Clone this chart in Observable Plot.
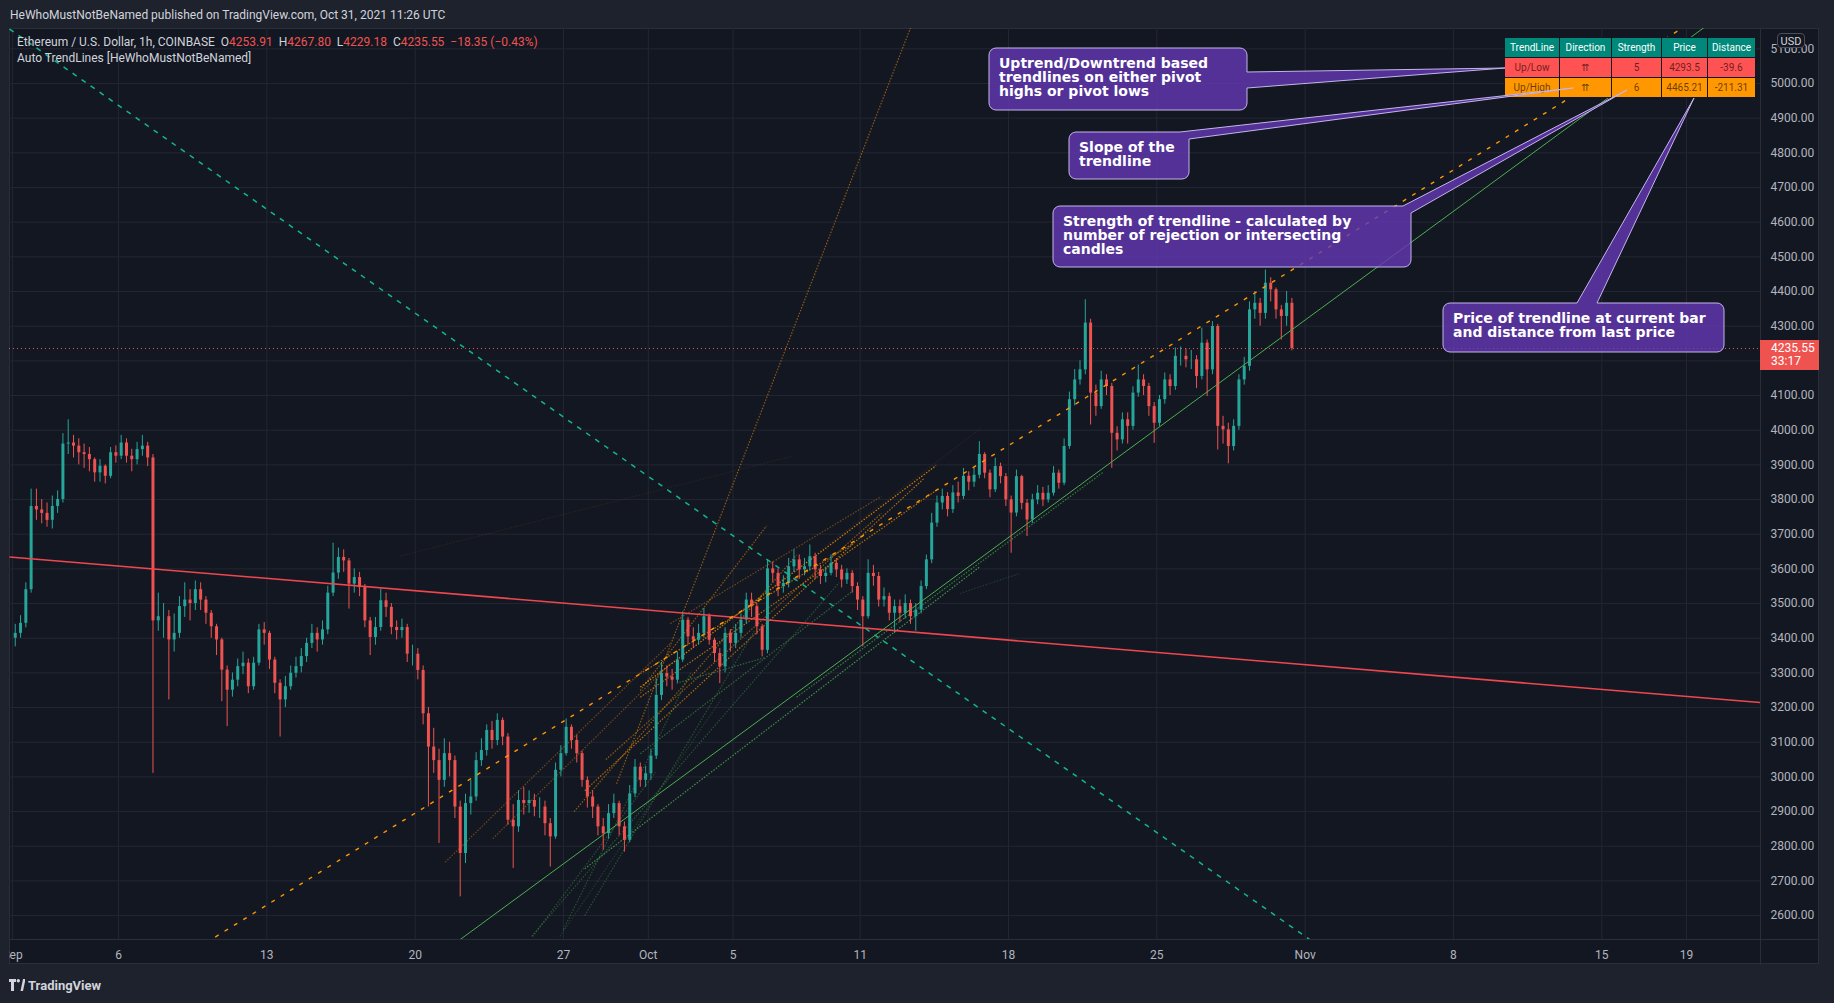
<!DOCTYPE html>
<html><head><meta charset="utf-8">
<script src="https://cdn.jsdelivr.net/npm/d3@7"></script>
<script src="https://cdn.jsdelivr.net/npm/@observablehq/plot@0.6"></script>
<style>
html,body{margin:0;padding:0;}
body{width:1834px;height:1003px;background:#1e222d;position:relative;overflow:hidden;font-family:Roboto,"Liberation Sans",Arial,sans-serif;}
.abs{position:absolute;}
#pane{left:9px;top:28px;width:1810px;height:936px;background:#131722;border:1px solid #2a2e39;box-sizing:border-box;}
#chart{left:0;top:28px;}
#leftmask{left:0;top:28px;width:9px;height:937px;background:#1e222d;}
#vsep{left:1760px;top:28px;width:1px;height:937px;background:#2a2e39;}
#hsep{left:9px;top:939px;width:1810px;height:1px;background:#2a2e39;}
#header{left:10px;top:8px;font-size:12px;color:#d1d4dc;line-height:14px;white-space:pre;}
.leg{left:17px;font-size:12px;line-height:14px;color:#d1d4dc;white-space:pre;}
.red{color:#ef5350;}
#usd{left:1777px;top:33px;width:28px;height:15px;border:1px solid #4a4e59;border-radius:4px;background:#131722;color:#d1d4dc;font-size:11px;line-height:15px;text-align:center;box-sizing:border-box;}
#plabel{left:1760px;width:59px;height:30px;background:#ef5350;color:#fff;font-size:12px;line-height:13px;padding:2px 0 0 11px;box-sizing:border-box;}
#tbl{left:1504px;top:37px;border-collapse:collapse;font-size:10px;}
#tbl td,#tbl th{border:1px solid #131722;text-align:center;padding:0;font-weight:normal;}
#tbl th{background:#00897b;color:#fff;height:19px;}
#tbl td{height:19px;color:rgba(0,0,0,0.62);}
#callouts{left:0;top:0;}
.ctext{font-family:"DejaVu Sans",sans-serif;font-weight:bold;font-size:14px;line-height:14px;color:#fff;white-space:pre;}
#footer{left:9px;top:978px;color:#d1d4dc;font-size:13px;font-weight:bold;line-height:16px;}
</style></head>
<body>
<div id="pane" class="abs"></div>
<div id="chart" class="abs"></div>
<div id="leftmask" class="abs"></div>
<div id="vsep" class="abs"></div>
<div id="hsep" class="abs"></div>
<div id="header" class="abs">HeWhoMustNotBeNamed published on TradingView.com, Oct 31, 2021 11:26 UTC</div>
<div id="leg1" class="abs leg" style="top:35px"></div>
<div id="leg2" class="abs leg" style="top:51px">Auto TrendLines [HeWhoMustNotBeNamed]</div>
<div id="usd" class="abs">USD</div>
<div id="plabel" class="abs"></div>
<table id="tbl" class="abs"></table>
<svg id="callouts" class="abs" width="1834" height="1003"></svg>
<div id="ctexts"></div>
<div id="footer" class="abs"><svg width="16" height="12" style="vertical-align:-1px;margin-right:3px"><path d="M0 0H7V3H5V12H2V3H0Z" fill="#d1d4dc"/><circle cx="9.3" cy="1.7" r="1.7" fill="#d1d4dc"/><path d="M11.5 12L14 0H16.5L14 12Z" fill="#d1d4dc"/></svg>TradingView</div>
<script>
// ---------- DATA ----------
const symbolName = "Ethereum / U.S. Dollar, 1h, COINBASE";
const ohlcLast = {O: "4253.91", H: "4267.80", L: "4229.18", C: "4235.55"};
const changeText = "\u221218.35 (\u22120.43%)";
const countdown = "33:17";

// 6-hour candles from 2021-09-01 00:00 UTC
const firstOpen = 3400;
const closes = [
 3414,3443,3540,3780, 3770,3760,3740,3780, 3800,3960,3963,3954, 3935,3930,3915,3877,
 3896,3867,3935,3925, 3963,3925,3915,3944, 3954,3920,3450,3462, 3462,3395,3414,3491,
 3510,3500,3540,3510, 3472,3433,3395,3308, 3250,3279,3318,3328, 3260,3328,3424,3414,
 3337,3270,3222,3260, 3299,3318,3347,3385, 3414,3395,3424,3530, 3588,3633,3623,3556,
 3575,3546,3450,3402, 3431,3508,3489,3431, 3422,3431,3354,3354, 3307,3182,3086,3047,
 2990,3067,3047,2913, 2779,2923,2942,3047, 3076,3134,3105,3163, 3115,2875,2856,2932,
 2923,2932,2913,2913, 2865,2827,3019,3067, 3143,3105,3067,2990, 2942,2913,2856,2836,
 2894,2923,2856,2817, 2951,3028,2990,3009,
 3060,3235,3298,3288, 3279,3337,3452,3404, 3394,3414,3462,3394, 3356,3317,3414,3385,
 3414,3452,3510,3491, 3433,3365,3600,3587, 3549,3558,3606,3626, 3597,3606,3635,3597,
 3578,3587,3616,3597, 3568,3587,3549,3510, 3462,3587,3578,3510, 3520,3472,3491,3472,
 3500,3462,3481,3549, 3626,3732,3790,3809, 3771,3819,3809,3867, 3850,3870,3930,3876,
 3828,3895,3866,3799, 3761,3866,3789,3741, 3799,3818,3799,3818, 3876,3847,3953,4088,
 4145,4174,4309,4107, 4068,4145,4126,3991, 3972,4030,4011,4107, 4145,4126,4068,4020,
 4088,4145,4126,4213, 4213,4203,4203,4155, 4251,4174,4299,4011, 4001,3953,4011,4145,
 4184,4347,4366,4337, 4424,4405,4347,4328, 4366,4235.55
];
const highs = [
 3440,3465,3560,3830, 3830,3800,3790,3810, 3825,3990,4030,3985, 3975,3960,3950,3920,
 3915,3900,3950,3955, 3985,3975,3945,3965, 3985,3965,3930,3530, 3500,3480,3470,3520,
 3560,3540,3565,3560, 3520,3480,3440,3400, 3320,3300,3340,3360, 3340,3345,3440,3445,
 3420,3345,3280,3290, 3320,3345,3370,3400, 3440,3430,3450,3550, 3674,3660,3655,3630,
 3600,3590,3555,3460, 3460,3542,3530,3500, 3450,3455,3440,3380, 3370,3320,3200,3140,
 3080,3110,3100,3060, 2930,2950,2990,3070, 3110,3150,3160,3182, 3170,3125,2920,2960,
 2970,2960,2950,2940, 2930,2880,3040,3090, 3167,3150,3120,3075, 3000,2960,2920,2880,
 2920,2950,2930,2870, 2975,3050,3040,3030,
 3080,3283,3330,3320, 3310,3360,3476,3460, 3430,3440,3486,3470, 3400,3370,3430,3425,
 3440,3470,3530,3530, 3500,3440,3625,3620, 3600,3580,3630,3655, 3640,3630,3669,3645,
 3610,3605,3640,3630, 3610,3600,3595,3560, 3520,3626,3610,3590, 3545,3530,3510,3510,
 3525,3510,3500,3565, 3640,3760,3810,3830, 3820,3840,3850,3890, 3880,3890,3967,3935,
 3885,3919,3905,3875, 3810,3885,3870,3800, 3815,3840,3835,3840, 3895,3885,3975,4110,
 4175,4200,4376,4320, 4130,4170,4160,4135, 4010,4050,4050,4125, 4188,4160,4135,4080,
 4100,4165,4160,4237, 4240,4235,4230,4215, 4294,4260,4313,4305, 4040,4020,4030,4160,
 4210,4370,4400,4380, 4462,4440,4410,4360, 4400,4380
];
const lows = [
 3375,3400,3430,3530, 3740,3730,3720,3715, 3760,3790,3930,3920, 3900,3890,3880,3850,
 3850,3845,3860,3905, 3915,3905,3880,3900, 3925,3895,3010,3420, 3400,3222,3360,3400,
 3460,3450,3480,3480, 3440,3400,3350,3217, 3145,3230,3260,3295, 3240,3250,3320,3380,
 3310,3240,3115,3200, 3250,3285,3300,3330, 3370,3360,3380,3410, 3520,3570,3590,3484,
 3530,3520,3430,3350, 3380,3420,3460,3410, 3395,3400,3330,3320, 3280,3150,2913,3010,
 2808,2970,3000,2880, 2654,2750,2890,2930, 3030,3060,3080,3090, 3090,2860,2736,2840,
 2890,2895,2885,2880, 2830,2740,2820,3000, 3060,3080,3040,2970, 2910,2880,2830,2788,
 2820,2880,2830,2783, 2810,2940,2970,2970,
 2990,3050,3220,3260, 3250,3270,3330,3380, 3370,3380,3400,3380, 3330,3269,3300,3360,
 3370,3400,3440,3460, 3410,3346,3355,3560, 3520,3530,3545,3590, 3570,3580,3595,3570,
 3555,3560,3580,3575, 3545,3555,3530,3480, 3375,3455,3550,3490, 3490,3450,3414,3445,
 3455,3440,3420,3470, 3540,3615,3720,3770, 3750,3760,3790,3800, 3825,3835,3860,3860,
 3805,3820,3845,3780, 3645,3750,3770,3693, 3730,3785,3780,3790, 3810,3830,3840,3945,
 4070,4130,4160,4015, 4040,4060,4100,3890, 3940,3960,3960,4000, 4095,4100,4040,3962,
 4010,4075,4100,4115, 4185,4180,4175,4120, 4145,4097,4160,3943, 3960,3903,3940,4000,
 4130,4170,4320,4300, 4320,4370,4320,4260, 4300,4229
];
const lastClose = 4235.55;

// Main trendlines (anchor points, extended across the chart)
const mainName       = ["Resistance", "Downtrend", "Up/High", "Up/Low"];
const mainStartTime  = ["2021-08-31T22:00Z", "2021-09-01T15:00Z", "2021-09-10T09:00Z", "2021-09-22T03:00Z"];
const mainStartPrice = [3634, 5124, 2531, 2531];
const mainEndTime    = ["2021-09-16T11:00Z", "2021-11-01T00:00Z", "2021-10-31T11:00Z", "2021-10-31T11:00Z"];
const mainEndPrice   = [3555, 2540, 4465.21, 4293.5];

// Older (historical) trendlines
const histKind       = ["high","high","high","high","high","high","high","high","high","high","high","high","high",
                        "low","low","low","low","low","low","low","low","low","low"];
const histStartTime  = ["2021-09-30T15:00Z","2021-09-30T15:00Z","2021-09-30T15:00Z","2021-09-29T12:00Z","2021-09-30T15:00Z",
                        "2021-09-21T10:00Z","2021-09-23T16:00Z","2021-09-19T07:00Z","2021-09-30T15:00Z","2021-10-02T01:00Z",
                        "2021-09-28T00:00Z","2021-09-29T00:00Z","2021-09-27T12:00Z",
                        "2021-09-28T00:00Z","2021-09-25T12:00Z","2021-09-30T15:00Z","2021-10-02T08:00Z","2021-10-08T00:00Z",
                        "2021-09-25T13:00Z","2021-09-26T20:00Z","2021-10-15T17:00Z","2021-09-27T00:00Z","2021-09-28T00:00Z"];
const histStartPrice = [3259,3230,3298,2980,3249, 2754,2822,3637,3259,3442, 2960,3050,2900,
                        2735,2540,3067,3270,3230, 2540,2540,3529,2560,2600];
const histEndTime    = ["2021-10-14T14:00Z","2021-10-14T14:00Z","2021-10-10T16:00Z","2021-10-13T12:00Z","2021-10-06T14:00Z",
                        "2021-10-02T01:00Z","2021-10-02T01:00Z","2021-10-07T19:00Z","2021-10-16T16:00Z","2021-10-12T00:00Z",
                        "2021-10-14T00:00Z","2021-10-12T00:00Z","2021-10-08T00:00Z",
                        "2021-10-16T15:00Z","2021-10-10T00:00Z","2021-10-10T16:00Z","2021-10-06T12:00Z","2021-10-22T12:00Z",
                        "2021-10-01T08:00Z","2021-10-04T10:00Z","2021-10-18T13:00Z","2021-10-03T00:00Z","2021-10-06T00:00Z"];
const histEndPrice   = [3898,3826,3673,5180,3724, 3385,3327,3925,4004,3809, 3860,3760,3640,
                        3605,3560,3537,3344,3880, 3013,3222,3587,3300,3420];
const histStrength   = [5,4,4,3,3, 2,2,0,0,2, 4,3,3, 5,2,3,3,4, 2,1,1,2,2];

// Axes
const viewStart = "2021-08-31T20:30Z", viewEnd = "2021-11-22T11:45Z";
const priceMin = 2531, priceMax = 5158.6;
const yGrid = [2600,2700,2800,2900,3000,3100,3200,3300,3400,3500,3600,3700,3800,3900,4000,4100,4200,4300,4400,4500,4600,4700,4800,4900,5000,5100];
// 4200.00 sits under the last-price label, so it is not printed
const yTickLabels = [2600,2700,2800,2900,3000,3100,3200,3300,3400,3500,3600,3700,3800,3900,4000,4100,4300,4400,4500,4600,4700,4800,4900,5000,5100];
const xTickDates = ["2021-09-01","2021-09-06","2021-09-13","2021-09-20","2021-09-27","2021-10-01","2021-10-05","2021-10-11","2021-10-18","2021-10-25","2021-11-01","2021-11-08","2021-11-15","2021-11-19"];

// Table
const tableHead = ["TrendLine","Direction","Strength","Price","Distance"];
const rowType = ["Up/Low","Up/High"];
const rowDir = ["\u21C8","\u21C8"];
const rowStrength = [5, 6];
const rowPrice = ["4293.5","4465.21"];
const rowDistance = ["-39.6","-211.31"];

// Callout texts
const calloutLines = [
  ["Uptrend/Downtrend based","trendlines on either pivot","highs or pivot lows"],
  ["Slope of the","trendline"],
  ["Strength of trendline - calculated by","number of rejection or intersecting","candles"],
  ["Price of trendline at current bar","and distance from last price"]
];

// ---------- BUILD ----------
const UP = "#26a69a", DOWN = "#ef5350";
const T0 = Date.UTC(2021, 8, 1, 0);
const STEP = 6 * 3600e3;
const candles = closes.map((c, i) => {
  const o = i === 0 ? firstOpen : closes[i - 1];
  return {t: new Date(T0 + i * STEP + STEP / 2), o, c, h: highs[i], l: lows[i], col: c >= o ? UP : DOWN};
});
const xDomain = [new Date(viewStart), new Date(viewEnd)];
function extendLine(t1, p1, t2, p2) {
  const a = +new Date(t1), b = +new Date(t2), k = (p2 - p1) / (b - a);
  const s = +xDomain[0], e = +xDomain[1];
  return {x1: new Date(s), y1: p1 + k * (s - a), x2: new Date(e), y2: p1 + k * (e - a)};
}
const mainLines = mainName.map((n, i) => ({name: n, ...extendLine(mainStartTime[i], mainStartPrice[i], mainEndTime[i], mainEndPrice[i])}));
const hist = histKind.map((k, i) => {
  const a = 0.1 + histStrength[i] * 0.14;
  return {x1: new Date(histStartTime[i]), y1: histStartPrice[i], x2: new Date(histEndTime[i]), y2: histEndPrice[i],
          col: k === "high" ? `rgba(255,152,0,${a})` : `rgba(76,175,80,${a})`};
});
const xTicks = xTickDates.map(d => new Date(d + "T00:00Z"));
const fmtX = d => d.getUTCDate() === 1 ? d3.utcFormat("%b")(d) : String(d.getUTCDate());
const lineStyle = {
  "Resistance": {stroke: "#f0474f", strokeWidth: 1.6},
  "Downtrend": {stroke: "#13b58a", strokeWidth: 1.5, strokeDasharray: "5,6"},
  "Up/High": {stroke: "#ff9800", strokeWidth: 1.4, strokeDasharray: "4,7"},
  "Up/Low": {stroke: "#4caf50", strokeWidth: 1}
};
const GRID = "#232733";
const chart = Plot.plot({
  width: 1834, height: 937,
  marginLeft: 9, marginRight: 74, marginTop: 0, marginBottom: 26,
  style: {background: "transparent", color: "#b2b5be", fontFamily: "Roboto, 'Liberation Sans', sans-serif", fontSize: "12px"},
  x: {type: "utc", domain: xDomain},
  y: {domain: [priceMin, priceMax]},
  marks: [
    Plot.ruleY(yGrid, {stroke: GRID}),
    Plot.ruleX(xTicks, {stroke: GRID}),
    Plot.link(hist, {x1: "x1", y1: "y1", x2: "x2", y2: "y2", stroke: "col", strokeWidth: 1.2, strokeDasharray: "1.5,1.5", clip: true}),
    Plot.ruleX(candles, {x: "t", y1: "l", y2: "h", stroke: "col", strokeWidth: 1, clip: true}),
    Plot.ruleX(candles, {x: "t", y1: "o", y2: "c", stroke: "col", strokeWidth: 3, clip: true}),
    Plot.ruleY([lastClose], {stroke: "#ef5350", strokeDasharray: "1,3"}),
    ...mainLines.map(l => Plot.link([l], {x1: "x1", y1: "y1", x2: "x2", y2: "y2", ...lineStyle[l.name], clip: true})),
    Plot.axisY(yTickLabels, {anchor: "right", tickSize: 0, tickPadding: 10, tickFormat: d => d.toFixed(2), label: null}),
    Plot.axisX(xTicks, {tickSize: 0, tickPadding: 11, tickFormat: fmtX, label: null})
  ]
});
document.getElementById("chart").appendChild(chart);

// legend
document.getElementById("leg1").innerHTML =
  symbolName + "  O<span class='red'>" + ohlcLast.O + "</span>  H<span class='red'>" + ohlcLast.H +
  "</span>  L<span class='red'>" + ohlcLast.L + "</span>  C<span class='red'>" + ohlcLast.C +
  "</span>  <span class='red'>" + changeText + "</span>";

// last price label
const yPix = chart.scale("y").apply(lastClose) + 28;
const pl = document.getElementById("plabel");
pl.style.top = (yPix - 8) + "px";
pl.innerHTML = lastClose.toFixed(2) + "<br>" + countdown;

// table
const tbl = document.getElementById("tbl");
const colW = [54, 51, 49, 45, 47];
const rowBg = ["#ff5252", "#ff9800"];
let html = "<tr>" + tableHead.map((h, j) => `<th style="width:${colW[j]}px">${h}</th>`).join("") + "</tr>";
rowType.forEach((r, i) => {
  html += `<tr style="background:${rowBg[i]}">` +
    [r, rowDir[i], rowStrength[i], rowPrice[i], rowDistance[i]].map((v, j) =>
      `<td style="${j === 1 ? "font-family:'DejaVu Sans';font-size:10px;" : ""}">${v}</td>`).join("") + "</tr>";
});
tbl.innerHTML = html;

// callouts (annotation layout in page pixels)
const callouts = [
  {box: [989, 48, 1247, 110], side: "right", a: [1247, 72], tip: [1505, 68], b: [1247, 88]},
  {box: [1069, 132, 1189, 179], side: "corner", a: [1180, 132], tip: [1573, 88], b: [1189, 139]},
  {box: [1053, 206, 1411, 267], side: "corner", a: [1403, 206], tip: [1627, 90], b: [1411, 213]},
  {box: [1443, 303, 1724, 352], side: "top", a: [1577, 303], tip: [1694, 98], b: [1597, 303]}
];
function calloutPath(c) {
  const [x0, y0, x1, y1] = c.box, r = 7;
  const w = `L${c.a[0]},${c.a[1]}L${c.tip[0]},${c.tip[1]}L${c.b[0]},${c.b[1]}`;
  let p = `M${x0 + r},${y0}`;
  if (c.side === "top") p += w;
  if (c.side === "corner") p += w;
  else {
    p += `L${x1 - r},${y0}A${r},${r} 0 0 1 ${x1},${y0 + r}`;
    if (c.side === "right") p += w;
  }
  p += `L${x1},${y1 - r}A${r},${r} 0 0 1 ${x1 - r},${y1}L${x0 + r},${y1}A${r},${r} 0 0 1 ${x0},${y1 - r}L${x0},${y0 + r}A${r},${r} 0 0 1 ${x0 + r},${y0}Z`;
  return p;
}
const csvg = d3.select("#callouts");
const ct = d3.select("#ctexts");
callouts.forEach((c, i) => {
  csvg.append("path").attr("d", calloutPath(c)).attr("fill", "rgba(100,56,180,0.8)")
    .attr("stroke", "#c4b5ec").attr("stroke-width", 1).attr("stroke-linejoin", "round");
  ct.append("div").attr("class", "abs ctext")
    .style("left", (c.box[0] + 10) + "px").style("top", (c.box[1] + 8) + "px")
    .text(calloutLines[i].join("\n"));
});
</script>
</body></html>
